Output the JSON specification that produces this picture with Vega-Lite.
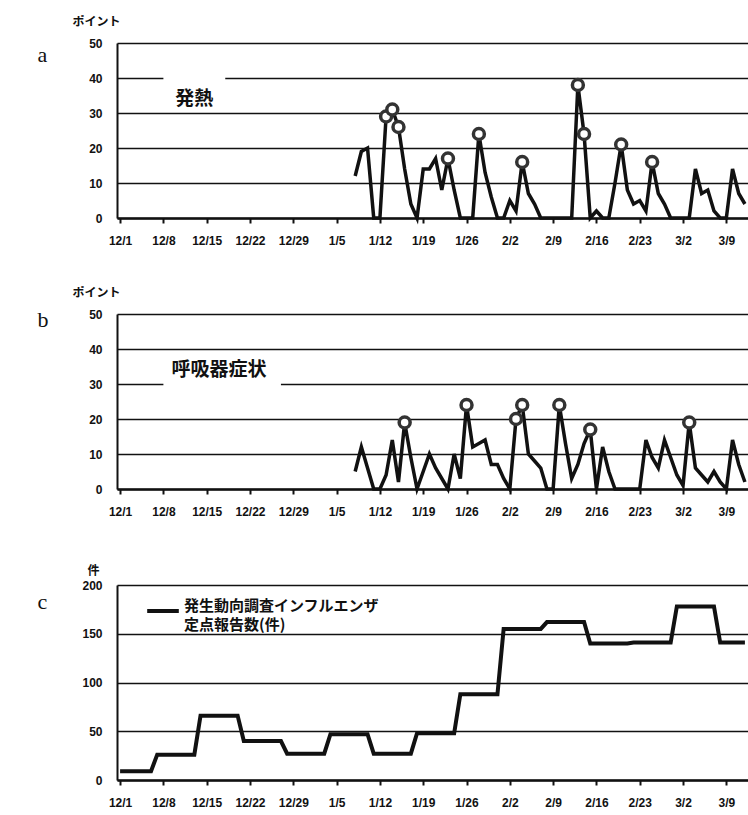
{
  "$schema": "https://vega.github.io/schema/vega-lite/v6.json",
  "background": "white",
  "padding": {"left": 37, "top": 15, "right": 0, "bottom": 0},
  "bounds": "flush",
  "spacing": 96,
  "config": {
    "view": {"stroke": null},
    "style": {"guide-label": {"lineHeight": 19}},
    "axis": {
      "labelFont": "Liberation Sans", "labelFontSize": 12, "labelFontWeight": "bold", "labelColor": "#111",
      "domainColor": "#111", "tickColor": "#111", "gridColor": "#111", "titleColor": "#111",
      "titleAngle": 0, "titleAlign": "left", "titleBaseline": "alphabetic"
    },
    "axisX": {
      "grid": false, "domainWidth": 2.5, "tickSize": 5, "tickWidth": 2, "labelPadding": 12,
      "labelFlush": false, "labelOverlap": false,
      "titleFont": "Liberation Serif", "titleFontSize": 22, "titleFontWeight": "normal"
    },
    "axisY": {
      "grid": true, "gridWidth": 1.5, "domainWidth": 2, "ticks": false, "labelPadding": 15,
      "titleFont": "Noto Sans CJK JP", "titleFontSize": 12, "titleFontWeight": "bold"
    }
  },
  "datasets": {
    "fever": [
      {"d":"2014-01-08","v":12},{"d":"2014-01-09","v":19},{"d":"2014-01-10","v":20},{"d":"2014-01-11","v":0},
      {"d":"2014-01-12","v":0},{"d":"2014-01-13","v":29,"c":1},{"d":"2014-01-14","v":31,"c":1},{"d":"2014-01-15","v":26,"c":1},
      {"d":"2014-01-16","v":14},{"d":"2014-01-17","v":4},{"d":"2014-01-18","v":0},{"d":"2014-01-19","v":14},
      {"d":"2014-01-20","v":14},{"d":"2014-01-21","v":17},{"d":"2014-01-22","v":8},{"d":"2014-01-23","v":17,"c":1},
      {"d":"2014-01-24","v":8},{"d":"2014-01-25","v":0},{"d":"2014-01-26","v":0},{"d":"2014-01-27","v":0},
      {"d":"2014-01-28","v":24,"c":1},{"d":"2014-01-29","v":13},{"d":"2014-01-30","v":6},{"d":"2014-01-31","v":0},
      {"d":"2014-02-01","v":0},{"d":"2014-02-02","v":5},{"d":"2014-02-03","v":2},{"d":"2014-02-04","v":16,"c":1},
      {"d":"2014-02-05","v":7},{"d":"2014-02-06","v":4},{"d":"2014-02-07","v":0},{"d":"2014-02-08","v":0},
      {"d":"2014-02-09","v":0},{"d":"2014-02-10","v":0},{"d":"2014-02-11","v":0},{"d":"2014-02-12","v":0},
      {"d":"2014-02-13","v":38,"c":1},{"d":"2014-02-14","v":24,"c":1},{"d":"2014-02-15","v":0},{"d":"2014-02-16","v":2},
      {"d":"2014-02-17","v":0},{"d":"2014-02-18","v":0},{"d":"2014-02-19","v":10},{"d":"2014-02-20","v":21,"c":1},
      {"d":"2014-02-21","v":8},{"d":"2014-02-22","v":4},{"d":"2014-02-23","v":5},{"d":"2014-02-24","v":2},
      {"d":"2014-02-25","v":16,"c":1},{"d":"2014-02-26","v":7},{"d":"2014-02-27","v":4},{"d":"2014-02-28","v":0},
      {"d":"2014-03-01","v":0},{"d":"2014-03-02","v":0},{"d":"2014-03-03","v":0},{"d":"2014-03-04","v":14},
      {"d":"2014-03-05","v":7},{"d":"2014-03-06","v":8},{"d":"2014-03-07","v":2},{"d":"2014-03-08","v":0},
      {"d":"2014-03-09","v":0},{"d":"2014-03-10","v":14},{"d":"2014-03-11","v":7},{"d":"2014-03-12","v":4}
    ],
    "resp": [
      {"d":"2014-01-08","v":5},{"d":"2014-01-09","v":12},{"d":"2014-01-10","v":6},{"d":"2014-01-11","v":0},
      {"d":"2014-01-12","v":0},{"d":"2014-01-13","v":4},{"d":"2014-01-14","v":14},{"d":"2014-01-15","v":2},
      {"d":"2014-01-16","v":19,"c":1},{"d":"2014-01-17","v":9},{"d":"2014-01-18","v":0},{"d":"2014-01-19","v":5},
      {"d":"2014-01-20","v":10},{"d":"2014-01-21","v":6},{"d":"2014-01-22","v":3},{"d":"2014-01-23","v":0},
      {"d":"2014-01-24","v":10},{"d":"2014-01-25","v":3},{"d":"2014-01-26","v":24,"c":1},{"d":"2014-01-27","v":12},
      {"d":"2014-01-28","v":13},{"d":"2014-01-29","v":14},{"d":"2014-01-30","v":7},{"d":"2014-01-31","v":7},
      {"d":"2014-02-01","v":3},{"d":"2014-02-02","v":0},{"d":"2014-02-03","v":20,"c":1},{"d":"2014-02-04","v":24,"c":1},
      {"d":"2014-02-05","v":10},{"d":"2014-02-06","v":8},{"d":"2014-02-07","v":6},{"d":"2014-02-08","v":0},
      {"d":"2014-02-09","v":0},{"d":"2014-02-10","v":24,"c":1},{"d":"2014-02-11","v":13},{"d":"2014-02-12","v":3},
      {"d":"2014-02-13","v":7},{"d":"2014-02-14","v":13},{"d":"2014-02-15","v":17,"c":1},{"d":"2014-02-16","v":0},
      {"d":"2014-02-17","v":12},{"d":"2014-02-18","v":5},{"d":"2014-02-19","v":0},{"d":"2014-02-20","v":0},
      {"d":"2014-02-21","v":0},{"d":"2014-02-22","v":0},{"d":"2014-02-23","v":0},{"d":"2014-02-24","v":14},
      {"d":"2014-02-25","v":9},{"d":"2014-02-26","v":6},{"d":"2014-02-27","v":14},{"d":"2014-02-28","v":9},
      {"d":"2014-03-01","v":4},{"d":"2014-03-02","v":1},{"d":"2014-03-03","v":19,"c":1},{"d":"2014-03-04","v":6},
      {"d":"2014-03-05","v":4},{"d":"2014-03-06","v":2},{"d":"2014-03-07","v":5},{"d":"2014-03-08","v":2},
      {"d":"2014-03-09","v":0},{"d":"2014-03-10","v":14},{"d":"2014-03-11","v":7},{"d":"2014-03-12","v":2}
    ],
    "flu": [
      {"d":"2013-12-01","v":9},{"d":"2013-12-02","v":9},{"d":"2013-12-03","v":9},{"d":"2013-12-04","v":9},
      {"d":"2013-12-05","v":9},{"d":"2013-12-06","v":9},{"d":"2013-12-07","v":26},{"d":"2013-12-08","v":26},
      {"d":"2013-12-09","v":26},{"d":"2013-12-10","v":26},{"d":"2013-12-11","v":26},{"d":"2013-12-12","v":26},
      {"d":"2013-12-13","v":26},{"d":"2013-12-14","v":66},{"d":"2013-12-15","v":66},{"d":"2013-12-16","v":66},
      {"d":"2013-12-17","v":66},{"d":"2013-12-18","v":66},{"d":"2013-12-19","v":66},{"d":"2013-12-20","v":66},
      {"d":"2013-12-21","v":40},{"d":"2013-12-22","v":40},{"d":"2013-12-23","v":40},{"d":"2013-12-24","v":40},
      {"d":"2013-12-25","v":40},{"d":"2013-12-26","v":40},{"d":"2013-12-27","v":40},{"d":"2013-12-28","v":27},
      {"d":"2013-12-29","v":27},{"d":"2013-12-30","v":27},{"d":"2013-12-31","v":27},{"d":"2014-01-01","v":27},
      {"d":"2014-01-02","v":27},{"d":"2014-01-03","v":27},{"d":"2014-01-04","v":47},{"d":"2014-01-05","v":47},
      {"d":"2014-01-06","v":47},{"d":"2014-01-07","v":47},{"d":"2014-01-08","v":47},{"d":"2014-01-09","v":47},
      {"d":"2014-01-10","v":47},{"d":"2014-01-11","v":27},{"d":"2014-01-12","v":27},{"d":"2014-01-13","v":27},
      {"d":"2014-01-14","v":27},{"d":"2014-01-15","v":27},{"d":"2014-01-16","v":27},{"d":"2014-01-17","v":27},
      {"d":"2014-01-18","v":48},{"d":"2014-01-19","v":48},{"d":"2014-01-20","v":48},{"d":"2014-01-21","v":48},
      {"d":"2014-01-22","v":48},{"d":"2014-01-23","v":48},{"d":"2014-01-24","v":48},{"d":"2014-01-25","v":88},
      {"d":"2014-01-26","v":88},{"d":"2014-01-27","v":88},{"d":"2014-01-28","v":88},{"d":"2014-01-29","v":88},
      {"d":"2014-01-30","v":88},{"d":"2014-01-31","v":88},{"d":"2014-02-01","v":155},{"d":"2014-02-02","v":155},
      {"d":"2014-02-03","v":155},{"d":"2014-02-04","v":155},{"d":"2014-02-05","v":155},{"d":"2014-02-06","v":155},
      {"d":"2014-02-07","v":155},{"d":"2014-02-08","v":162},{"d":"2014-02-09","v":162},{"d":"2014-02-10","v":162},
      {"d":"2014-02-11","v":162},{"d":"2014-02-12","v":162},{"d":"2014-02-13","v":162},{"d":"2014-02-14","v":162},
      {"d":"2014-02-15","v":140},{"d":"2014-02-16","v":140},{"d":"2014-02-17","v":140},{"d":"2014-02-18","v":140},
      {"d":"2014-02-19","v":140},{"d":"2014-02-20","v":140},{"d":"2014-02-21","v":140},{"d":"2014-02-22","v":141},
      {"d":"2014-02-23","v":141},{"d":"2014-02-24","v":141},{"d":"2014-02-25","v":141},{"d":"2014-02-26","v":141},
      {"d":"2014-02-27","v":141},{"d":"2014-02-28","v":141},{"d":"2014-03-01","v":178},{"d":"2014-03-02","v":178},
      {"d":"2014-03-03","v":178},{"d":"2014-03-04","v":178},{"d":"2014-03-05","v":178},{"d":"2014-03-06","v":178},
      {"d":"2014-03-07","v":178},{"d":"2014-03-08","v":141},{"d":"2014-03-09","v":141},{"d":"2014-03-10","v":141},
      {"d":"2014-03-11","v":141},{"d":"2014-03-12","v":141}
    ],
    "boxA": [{"d":"2013-12-08","d2":"2013-12-18","v":31,"v2":42}],
    "boxB": [{"d":"2013-12-08","d2":"2013-12-27","v":28,"v2":38}],
    "txtA": [{"d":"2013-12-13","v":34,"t":"発熱"}],
    "txtB": [{"d":"2013-12-17","v":34,"t":"呼吸器症状"}]
  },
  "vconcat": [
    {
      "width": 631, "height": 175,
      "encoding": {
        "x": {"field": "d", "type": "temporal",
          "scale": {"type": "utc", "domain": [{"year": 2013, "month": 11, "date": 30, "hours": 12, "utc": true}, {"year": 2014, "month": 3, "date": 12, "hours": 12, "utc": true}]},
          "axis": {"title": "a", "titleX": -80, "titleY": -157, "format": "%-m/%-d", "tickCount": {"interval": "week", "step": 1}}},
        "y": {"field": "v", "type": "quantitative", "scale": {"domain": [0, 50]},
          "axis": {"title": "ポイント", "titleX": -45, "titleY": -18, "values": [0, 10, 20, 30, 40, 50]}}
      },
      "layer": [
        {"data": {"name": "boxA"}, "mark": {"type": "rect", "color": "white"}, "encoding": {"x2": {"field": "d2"}, "y2": {"field": "v2"}}},
        {"data": {"name": "fever"}, "mark": {"type": "line", "color": "#111", "strokeWidth": 3.5, "strokeJoin": "miter"}, "encoding": {}},
        {"data": {"name": "fever"}, "transform": [{"filter": "datum.c == 1"}], "mark": {"type": "point", "shape": "circle", "filled": true, "fill": "white", "stroke": "#333", "strokeWidth": 3.5, "size": 120, "opacity": 1}},
        {"data": {"name": "txtA"}, "mark": {"type": "text", "font": "Noto Sans CJK JP", "fontSize": 19, "fontWeight": "bold", "color": "#111", "baseline": "middle", "align": "center"}, "encoding": {"text": {"field": "t"}}}
      ]
    },
    {
      "width": 631, "height": 175,
      "encoding": {
        "x": {"field": "d", "type": "temporal",
          "scale": {"type": "utc", "domain": [{"year": 2013, "month": 11, "date": 30, "hours": 12, "utc": true}, {"year": 2014, "month": 3, "date": 12, "hours": 12, "utc": true}]},
          "axis": {"title": "b", "titleX": -80, "titleY": -163, "format": "%-m/%-d", "tickCount": {"interval": "week", "step": 1}}},
        "y": {"field": "v", "type": "quantitative", "scale": {"domain": [0, 50]},
          "axis": {"title": "ポイント", "titleX": -45, "titleY": -18, "values": [0, 10, 20, 30, 40, 50]}}
      },
      "layer": [
        {"data": {"name": "boxB"}, "mark": {"type": "rect", "color": "white"}, "encoding": {"x2": {"field": "d2"}, "y2": {"field": "v2"}}},
        {"data": {"name": "resp"}, "mark": {"type": "line", "color": "#111", "strokeWidth": 3.5, "strokeJoin": "miter"}, "encoding": {}},
        {"data": {"name": "resp"}, "transform": [{"filter": "datum.c == 1"}], "mark": {"type": "point", "shape": "circle", "filled": true, "fill": "white", "stroke": "#333", "strokeWidth": 3.5, "size": 120, "opacity": 1}},
        {"data": {"name": "txtB"}, "mark": {"type": "text", "font": "Noto Sans CJK JP", "fontSize": 19, "fontWeight": "bold", "color": "#111", "baseline": "middle", "align": "center"}, "encoding": {"text": {"field": "t"}}}
      ]
    },
    {
      "width": 631, "height": 195,
      "data": {"name": "flu"},
      "mark": {"type": "line", "strokeWidth": 4, "strokeJoin": "miter"},
      "encoding": {
        "x": {"field": "d", "type": "temporal",
          "scale": {"type": "utc", "domain": [{"year": 2013, "month": 11, "date": 30, "hours": 12, "utc": true}, {"year": 2014, "month": 3, "date": 12, "hours": 12, "utc": true}]},
          "axis": {"title": "c", "titleX": -80, "titleY": -172, "format": "%-m/%-d", "tickCount": {"interval": "week", "step": 1}}},
        "y": {"field": "v", "type": "quantitative", "scale": {"domain": [0, 200]},
          "axis": {"title": "件", "titleX": -30, "titleY": -11, "values": [0, 50, 100, 150, 200]}},
        "color": {"datum": "発生動向調査インフルエンザ定点報告数(件)", "type": "nominal", "scale": {"range": ["#111"]},
          "legend": {"orient": "none", "legendX": 28, "legendY": 550, "title": null, "symbolType": "stroke", "symbolSize": 1000, "symbolStrokeWidth": 4,
            "labelFont": "Noto Sans CJK JP", "labelFontSize": 15, "labelFontWeight": "bold", "labelColor": "#111", "labelLimit": 0,
            "labelBaseline": "alphabetic", "labelOffset": 3, "padding": 0,
            "labelExpr": "['発生動向調査インフルエンザ', '定点報告数(件)']"}}
      }
    }
  ]
}
